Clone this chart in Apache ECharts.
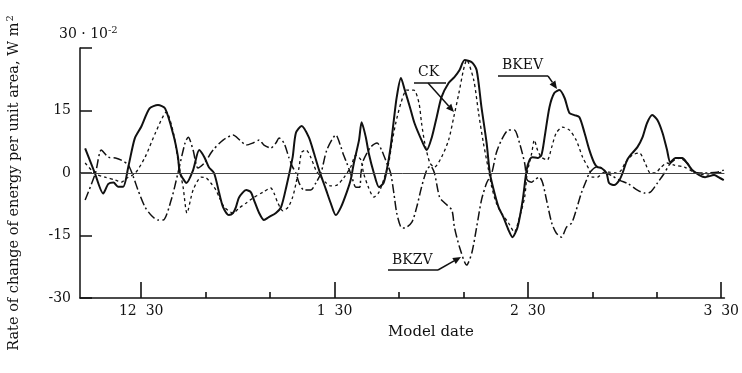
<!DOCTYPE html>
<html>
<head>
<meta charset="utf-8">
<script src="https://cdn.jsdelivr.net/npm/echarts@6/dist/echarts.min.js"></script>
<style>
html,body{margin:0;padding:0;background:#fff;}
#chart{width:742px;height:373px;}
</style>
</head>
<body>
<div id="chart"></div>
<script>
// x = days relative to the "12 30" tick; y = rate of change (×10^-2 W m^-2)
const majorTicks = [0, 30, 60, 90];
const majorTickLabels = ['12  30', '1  30', '2  30', '3  30'];
const minorTicks = [10, 20, 40, 50, 70, 80];
const yTicks = [-30, -15, 0, 15, 30];

const bkevData = [
  [-8.7,5.9],[-7.2,0],[-5.9,-4.9],[-5.1,-2.6],[-4.3,-2.3],[-3.6,-3.3],[-2.8,-3.3],[-2.0,1.5],
  [-1.0,8.3],[0.0,11.1],[1.3,15.5],[2.6,16.3],[3.7,15.5],[5.0,9.1],[5.7,3.9],[6.0,0],
  [6.8,-2.1],[7.0,-2.4],[8.05,0.7],[9.0,5.5],[9.8,3.8],[10.5,1.4],[11.3,0],[12.1,-4.8],
  [12.7,-8.2],[13.6,-10.1],[14.25,-9.6],[14.7,-8.2],[15.2,-5.8],[16.3,-4.1],[17.0,-4.6],[17.5,-6.5],
  [18.3,-9.6],[19.05,-11.3],[19.8,-10.6],[20.9,-9.6],[21.7,-8.2],[22.5,-3.4],[23.5,3.8],[24.0,9.6],
  [24.9,11.3],[26.0,8.6],[26.8,4.8],[27.6,0.7],[28.7,-4.1],[29.4,-7.2],[30.2,-10.1],[31.0,-8.2],
  [31.9,-4.6],[32.5,-1.7],[33.0,2.4],[33.8,7.9],[34.2,12.2],[34.85,8.6],[35.3,4.8],[36.1,0],
  [36.9,-3.4],[37.6,-2.4],[38.1,0.7],[38.7,6.2],[39.2,12.7],[39.65,18.2],[40.3,22.8],[40.9,19.9],
  [41.7,15.8],[42.4,12.0],[43.5,7.9],[44.3,5.5],[45.1,8.6],[45.85,13.4],[46.6,18.2],[47.7,21.6],
  [48.6,23.0],[49.4,24.7],[50.2,27.1],[51.3,26.6],[52.05,24.7],[52.8,15.8],[53.6,7.2],[54.1,0],
  [54.7,-4.1],[55.45,-8.2],[56.2,-10.6],[57.0,-13.7],[57.6,-15.4],[58.4,-13.0],[59.2,-6.5],[59.8,0.7],
  [60.25,3.1],[60.7,3.8],[61.5,3.6],[62.1,4.3],[62.6,8.6],[63.35,15.8],[64.1,19.2],[64.9,19.9],
  [65.7,18.0],[66.45,14.4],[67.2,13.9],[68.0,13.4],[68.8,9.6],[69.55,5.5],[70.3,2.4],[70.8,1.4],
  [71.4,1.2],[72.2,0],[72.6,-2.4],[73.4,-2.9],[74.2,-1.7],[74.7,0],[75.4,3.1],[76.2,4.8],
  [77.0,6.2],[77.8,8.6],[78.5,12.0],[79.3,13.9],[80.1,12.7],[80.9,9.6],[81.6,5.5],[82.1,2.6],
  [82.9,3.6],[83.95,3.6],[84.7,2.4],[85.5,0.7],[86.6,-0.5],[87.5,-1.0],[88.9,-0.5],[89.8,-1.2],[90.4,-1.7]
];

const ckData = [
  [-8.7,2.4],[-7.1,-0.2],[-5.6,-1.0],[-4.0,-1.7],[-3.1,-2.2],[-2.2,-1.2],[-0.9,0],[0.6,3.8],
  [2.2,9.6],[3.9,14.6],[5.0,9.6],[5.7,3.1],[6.5,-3.4],[7.1,-9.6],[8.05,-4.1],[9.3,-1.0],
  [10.1,-1.2],[10.8,-2.4],[11.6,-4.1],[12.1,-5.8],[12.9,-8.2],[14.25,-9.6],[15.2,-8.4],[16.3,-7.2],
  [17.35,-6.0],[18.9,-4.6],[20.1,-3.6],[20.6,-4.8],[21.2,-7.2],[22.0,-9.1],[22.8,-8.2],[23.5,-5.8],
  [24.0,-2.6],[24.5,1.4],[24.9,5.0],[25.6,5.5],[26.3,3.8],[27.1,0.7],[27.9,-1.0],[28.7,-2.4],
  [29.4,-3.1],[30.4,-2.9],[31.4,-1.2],[32.5,1.4],[33.3,4.3],[34.1,3.1],[34.5,0],[35.3,-3.6],
  [36.1,-5.8],[36.9,-4.6],[37.6,-1.7],[38.4,2.4],[38.9,7.2],[39.5,12.0],[40.3,16.8],[41.2,19.9],
  [42.3,19.9],[43.1,16.8],[43.5,12.0],[44.0,7.2],[44.8,2.4],[45.5,1.4],[46.6,3.8],[47.7,7.9],
  [48.5,13.4],[49.3,19.2],[50.0,24.7],[50.5,27.1],[51.6,22.3],[52.35,14.4],[53.1,7.2],[53.9,0.7],
  [54.4,-3.4],[55.1,-7.2],[55.9,-9.6],[57.0,-12.0],[57.9,-14.2],[58.7,-10.6],[59.5,-5.8],[59.9,0],
  [60.6,4.8],[61.0,7.9],[61.5,5.5],[62.1,3.8],[63.0,3.1],[63.7,6.2],[64.4,9.6],[65.4,11.0],
  [66.45,10.3],[67.5,7.9],[68.5,3.8],[69.55,0.7],[70.0,-1.0],[70.8,-1.0],[71.6,0],[72.6,0.2],
  [73.6,0],[74.4,0.5],[75.1,2.4],[76.2,4.3],[77.3,4.8],[78.2,2.4],[79.0,0],[79.8,0],
  [80.55,1.2],[81.6,2.4],[82.7,1.9],[84.3,1.4],[85.8,0.2],[87.8,-0.5],[89.4,0],[90.4,0.2]
];

const bkzvData = [
  [-8.7,-6.5],[-7.1,0],[-6.2,5.5],[-5.1,3.8],[-4.0,3.6],[-3.1,3.1],[-2.0,1.9],[-1.2,-1.0],
  [-0.5,-4.1],[0.6,-8.2],[1.7,-10.4],[2.6,-11.3],[3.4,-11.3],[4.65,-6.5],[5.7,0],[6.8,7.2],
  [7.3,8.6],[8.05,5.5],[8.8,1.2],[9.8,2.4],[11.15,5.5],[12.7,7.9],[14.25,9.1],[15.3,7.9],
  [16.3,6.7],[17.35,7.2],[18.3,7.9],[19.05,6.7],[20.1,6.0],[20.9,7.2],[21.4,8.4],[22.15,7.2],
  [22.9,3.8],[23.5,1.4],[24.0,0],[24.5,-2.4],[25.25,-4.1],[26.3,-4.1],[27.1,-2.4],[27.9,0],
  [28.8,5.5],[30.2,9.1],[31.0,6.2],[31.4,4.3],[31.9,2.4],[32.7,-1.0],[33.3,-3.4],[33.9,-3.4],
  [34.1,0],[34.5,3.1],[35.6,6.2],[36.6,7.2],[37.3,5.5],[38.1,2.4],[38.7,0],[39.2,-4.8],
  [39.65,-9.6],[40.3,-13.0],[40.9,-13.2],[42.0,-11.8],[42.75,-8.2],[43.5,-3.4],[44.3,0.7],[44.9,1.7],
  [45.5,0],[46.3,-5.8],[47.1,-7.2],[48.2,-8.9],[48.6,-13.0],[49.4,-17.8],[50.5,-22.1],[51.3,-19.2],
  [52.05,-13.0],[52.8,-6.5],[53.6,-2.4],[54.4,0],[55.1,4.8],[55.9,7.9],[57.0,10.3],[57.9,10.3],
  [58.7,7.2],[59.5,2.4],[59.9,-1.7],[60.6,-2.2],[61.0,-1.7],[61.8,-1.0],[62.3,-2.4],[62.9,-6.5],
  [63.7,-12.0],[64.4,-14.4],[65.2,-15.4],[66.0,-13.0],[66.8,-12.0],[67.5,-8.9],[68.3,-4.8],[69.1,-1.7],
  [69.55,0],[70.6,1.4],[71.4,1.2],[72.2,0],[73.1,-0.7],[74.2,-1.7],[75.6,-2.6],[77.0,-4.1],
  [78.1,-4.8],[79.0,-4.6],[80.1,-2.4],[81.2,0],[81.9,1.9],[82.7,3.1],[83.6,3.6],[84.7,2.4],
  [85.8,0.2],[87.4,0],[89.4,0.2],[90.4,0.7]
];

const FONT = 'DejaVu Serif';
const INK = '#111';

const chart = echarts.init(document.getElementById('chart'), null, {renderer: 'canvas'});

function arrow(x1, y1, x2, y2) {
  const a = Math.atan2(y2 - y1, x2 - x1);
  const L = 8, W = 3.5;
  const bx = x2 - L * Math.cos(a), by = y2 - L * Math.sin(a);
  return [
    {type: 'line', shape: {x1: x1, y1: y1, x2: bx, y2: by}, style: {stroke: INK, lineWidth: 1.5}},
    {type: 'polygon', shape: {points: [[x2, y2],
      [bx + W * Math.sin(a), by - W * Math.cos(a)],
      [bx - W * Math.sin(a), by + W * Math.cos(a)]]}, style: {fill: INK}}
  ];
}
function label(text, x, y) {
  return {type: 'text', x: x, y: y, style: {text: text, font: '14px "' + FONT + '"', fill: INK, textVerticalAlign: 'middle'}};
}
function hline(x1, x2, y) {
  return {type: 'line', shape: {x1: x1, y1: y, x2: x2, y2: y}, style: {stroke: INK, lineWidth: 1.5}};
}

const graphics = [
  {type: 'text', x: 14, y: 183, rotation: Math.PI / 2, style: {
    text: 'Rate of change of energy per unit area, W m{sup|2}',
    font: '14.5px "' + FONT + '"', fill: INK, textAlign: 'center', textVerticalAlign: 'middle',
    rich: {sup: {fontSize: 10, fontFamily: FONT, verticalAlign: 'top', padding: [0, 0, 8, 1]}}
  }},
  {type: 'text', x: 59, y: 34, style: {
    text: '30 · 10{sup|-2}', font: '14px "' + FONT + '"', fill: INK, textVerticalAlign: 'middle',
    rich: {sup: {fontSize: 10, fontFamily: FONT, padding: [0, 0, 8, 0]}}
  }},
  {type: 'text', x: 388, y: 332, style: {text: 'Model date', font: '15px "' + FONT + '"', fill: INK, textVerticalAlign: 'middle'}},
  label('CK', 418, 72), hline(414, 446, 83), ...arrow(428, 83, 454, 112),
  label('BKEV', 502, 65), hline(498, 548, 76), ...arrow(548, 76, 557, 89),
  label('BKZV', 392, 260), hline(388, 438, 270), ...arrow(438, 270, 461, 257)
];

const option = {
  backgroundColor: '#fff',
  animation: false,
  grid: {left: 80, right: 16, top: 48, bottom: 75, containLabel: false},
  xAxis: [
    {type: 'value', min: -9.5, max: 90.5, position: 'bottom',
     axisLine: {show: true, onZero: false, lineStyle: {color: INK, width: 1.5}},
     axisTick: {show: true, inside: true, length: 16, customValues: majorTicks, lineStyle: {color: INK, width: 1.6}},
     axisLabel: {show: true, customValues: majorTicks, margin: 6, color: INK, fontFamily: FONT, fontSize: 14,
       formatter: function (v) { const i = majorTicks.indexOf(v); return i >= 0 ? majorTickLabels[i] : ''; }},
     splitLine: {show: false}},
    {type: 'value', min: -9.5, max: 90.5, position: 'bottom',
     axisLine: {show: false, onZero: false},
     axisTick: {show: true, inside: true, length: 6, customValues: minorTicks, lineStyle: {color: INK, width: 1.6}},
     axisLabel: {show: false}, splitLine: {show: false}}
  ],
  yAxis: {type: 'value', min: -30, max: 30, interval: 15,
    axisLine: {show: true, onZero: false, lineStyle: {color: INK, width: 1.5}},
    axisTick: {show: true, inside: true, length: 12, customValues: yTicks, lineStyle: {color: INK, width: 1.5}},
    axisLabel: {show: true, margin: 9, color: INK, fontFamily: FONT, fontSize: 14,
      formatter: function (v) { return v === 30 ? '' : String(v); }},
    splitLine: {show: false}},
  graphic: graphics,
  series: [
    {name: 'BKEV', type: 'line', data: bkevData, showSymbol: false, symbol: 'none', smooth: 0.25,
     lineStyle: {color: INK, width: 2, type: 'solid'},
     markLine: {silent: true, symbol: 'none', label: {show: false},
       lineStyle: {color: '#444', width: 1, type: 'solid'}, data: [{yAxis: 0}]}},
    {name: 'CK', type: 'line', data: ckData, showSymbol: false, symbol: 'none', smooth: 0.25,
     lineStyle: {color: INK, width: 1.3, type: [3, 3]}},
    {name: 'BKZV', type: 'line', data: bkzvData, showSymbol: false, symbol: 'none', smooth: 0.25,
     lineStyle: {color: INK, width: 1.5, type: [9, 3, 2, 3]}}
  ]
};
chart.setOption(option);
</script>
</body>
</html>
